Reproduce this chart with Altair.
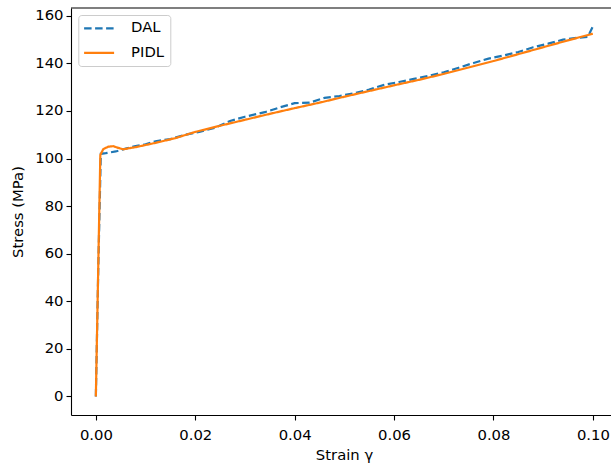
import altair as alt
import pandas as pd

# ---- data ----
strain_dal = [0.0, 0.0005, 0.001, 0.002, 0.004, 0.006, 0.008, 0.010, 0.012, 0.015,
              0.018, 0.021, 0.024, 0.027, 0.030, 0.034, 0.037, 0.040, 0.043, 0.046,
              0.049, 0.052, 0.055, 0.058, 0.061, 0.064, 0.067, 0.070, 0.073, 0.076,
              0.079, 0.082, 0.085, 0.088, 0.091, 0.094, 0.097, 0.099, 0.100]
stress_dal = [0.0, 55.0, 102.0, 102.3, 103.0, 104.2, 105.3, 106.0, 107.3, 108.2,
              110.0, 111.3, 113.0, 115.8, 117.6, 119.5, 121.5, 123.3, 123.5, 125.5,
              126.3, 127.5, 129.0, 131.0, 132.2, 133.5, 134.8, 136.3, 138.2, 140.2,
              142.0, 143.3, 144.8, 146.8, 148.3, 150.0, 150.8, 151.2, 155.5]

strain_pidl = [0.0, 0.0009, 0.0015, 0.0025, 0.0035, 0.0045, 0.0055, 0.008, 0.012,
               0.016, 0.020, 0.025, 0.030, 0.035, 0.040, 0.045, 0.050, 0.055, 0.060,
               0.065, 0.070, 0.075, 0.080, 0.085, 0.090, 0.095, 0.100]
stress_pidl = [0.0, 101.5, 104.0, 105.0, 105.2, 104.5, 103.9, 104.8, 106.6,
               108.6, 111.2, 113.8, 116.3, 118.8, 121.2, 123.5, 126.0, 128.4, 130.8,
               133.1, 135.6, 138.3, 141.0, 143.9, 146.8, 149.7, 152.5]

series_names = ["DAL", "PIDL"]
series_colors = ["#1f77b4", "#ff7f0e"]
x_ticks = [0.0, 0.02, 0.04, 0.06, 0.08, 0.10]
y_ticks = [0, 20, 40, 60, 80, 100, 120, 140, 160]

df = pd.concat([
    pd.DataFrame({"strain": strain_dal, "stress": stress_dal, "series": "DAL"}),
    pd.DataFrame({"strain": strain_pidl, "stress": stress_pidl, "series": "PIDL"}),
], ignore_index=True)

FONT = "DejaVu Sans"
FS = 14.8
W, H = 540, 407

legend_kw = dict(
    orient="none", legendX=7.3, legendY=7, padding=5.8, rowPadding=8.5,
    symbolType="M-2.5,0H2.5", symbolSize=144, symbolStrokeWidth=2.2,
    symbolOffset=7.5,
    labelFont=FONT, labelFontSize=FS, labelOffset=24.5, labelColor="black",
    strokeColor="#cccccc", fillColor="rgba(255,255,255,0.8)", cornerRadius=3,
    title=None,
)

lines = alt.Chart(df).mark_line(strokeWidth=2.2).encode(
    x=alt.X("strain:Q",
            scale=alt.Scale(domain=[-0.005, 0.10365], nice=False, zero=False),
            axis=alt.Axis(values=x_ticks, format=".2f", labelPadding=7,
                          title="Strain γ", titleX=273, titleY=44,
                          titleBaseline="alphabetic")),
    y=alt.Y("stress:Q",
            scale=alt.Scale(domain=[-7.8, 163.3], nice=False, zero=False),
            axis=alt.Axis(values=y_ticks, labelPadding=3,
                          title="Stress (MPa)", titleX=-53, titleY=203.5,
                          titleAngle=270, titleBaseline="middle", titleAlign="center")),
    color=alt.Color("series:N",
                    scale=alt.Scale(domain=series_names, range=series_colors),
                    legend=alt.Legend(**legend_kw)),
    strokeDash=alt.StrokeDash("series:N",
                              scale=alt.Scale(domain=series_names, range=[[7.5, 3.5], [1, 0]]),
                              legend=alt.Legend(**legend_kw)),
)

top_border = alt.Chart(pd.DataFrame({"k": [0]})).mark_rule(
    color="black", strokeWidth=1.1
).encode(x=alt.value(0), x2=alt.value(W), y=alt.value(0))

chart = alt.layer(lines, top_border).properties(
    width=W, height=H,
    autosize=alt.AutoSizeParams(type="none"),
    padding={"left": 71, "top": 8, "right": 0, "bottom": 53},
    background="white",
).configure_view(stroke=None).configure_axis(
    grid=False, domainColor="black", domainWidth=1.1, tickColor="black",
    tickWidth=1.1, tickSize=5, labelFont=FONT, labelFontSize=FS, labelColor="black",
    titleFont=FONT, titleFontSize=FS, titleColor="black", titleFontWeight="normal",
)

chart.save("out.html", embed_options={"renderer": "svg", "actions": False})
